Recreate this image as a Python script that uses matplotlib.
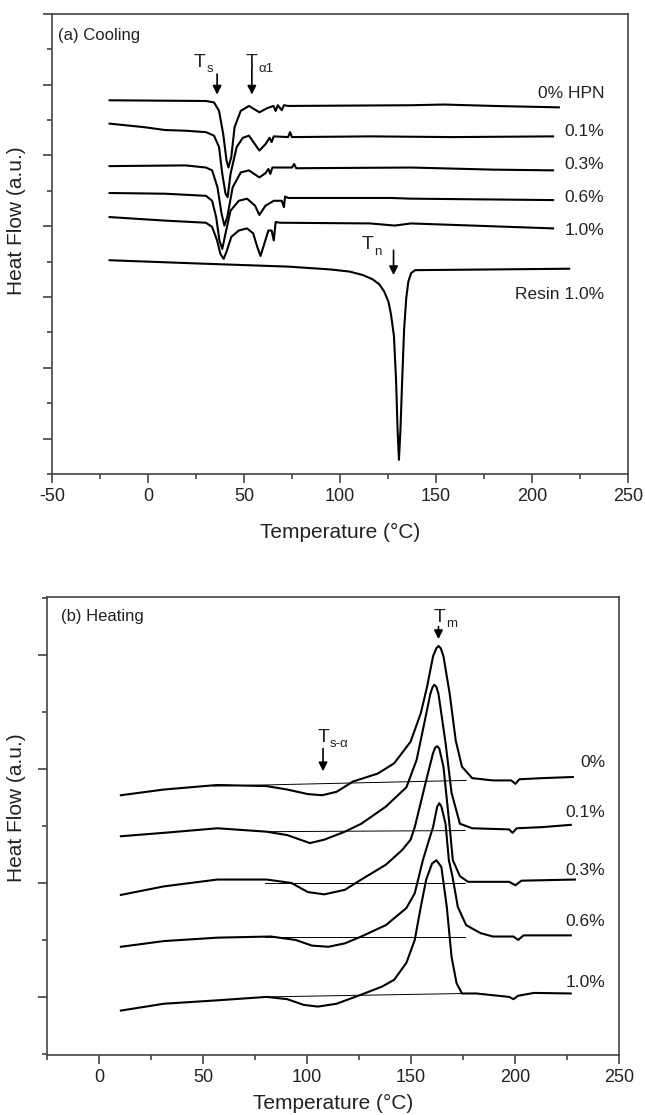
import numpy as np
import matplotlib
matplotlib.use("Agg")
from matplotlib import pyplot as plt
from matplotlib.ticker import MultipleLocator, NullFormatter

plt.rcParams['font.family'] = ['Liberation Sans', 'DejaVu Sans']
plt.rcParams['axes.unicode_minus'] = False

##DATA  (temperature in C, heat flow in a.u.)

# (a) cooling scans
cool_labels = ['0% HPN', '0.1%', '0.3%', '0.6%', '1.0%', 'Resin 1.0%']

cool_0 = [(-20, 4.78), (30.2, 4.77), (34.4, 4.75), (37.0, 4.63), (39.2, 4.30), (40.9, 3.93),
          (41.9, 3.83), (43.4, 3.98), (45.1, 4.40), (48.3, 4.63), (52.6, 4.70), (58.0, 4.61),
          (62.2, 4.67), (65.4, 4.70), (66.5, 4.63), (67.6, 4.71), (69.7, 4.64), (70.8, 4.71),
          (73, 4.70), (137, 4.71), (154, 4.72), (180, 4.70), (214, 4.68)]

cool_01 = [(-20, 4.45), (-1.9, 4.40), (8.8, 4.36), (19.5, 4.35), (30.2, 4.33), (34.4, 4.28),
           (37.0, 4.12), (38.7, 3.74), (40.4, 3.46), (41.5, 3.41), (43.0, 3.74), (46.2, 4.12),
           (49.4, 4.25), (52.6, 4.28), (58.0, 4.07), (61.2, 4.16), (63.3, 4.25), (64.4, 4.19),
           (65.5, 4.27), (73, 4.26), (74, 4.33), (75, 4.26), (115.7, 4.27), (158.5, 4.26),
           (211, 4.27)]

cool_03 = [(-20, 3.85), (19.5, 3.86), (30.2, 3.83), (33.4, 3.79), (36.2, 3.55), (38.3, 3.18),
           (39.8, 3.01), (41.3, 3.13), (44.1, 3.55), (48.3, 3.76), (52.6, 3.79), (58.0, 3.69),
           (61.2, 3.75), (62.7, 3.81), (63.7, 3.74), (64.8, 3.83), (75, 3.83), (76.1, 3.88),
           (77.2, 3.82), (137, 3.83), (180, 3.80), (211, 3.79)]

cool_06 = [(-20, 3.47), (8.8, 3.46), (30.2, 3.43), (33.4, 3.36), (35.5, 3.13), (37.2, 2.80),
           (38.7, 2.68), (40.4, 2.90), (43.0, 3.22), (47.3, 3.36), (51.6, 3.39), (55.8, 3.29),
           (58.0, 3.16), (61.2, 3.29), (65.5, 3.36), (69.7, 3.36), (70.8, 3.27), (71.4, 3.42),
           (73, 3.40), (126.4, 3.40), (137, 3.39), (211, 3.37)]

cool_10 = [(-20, 3.13), (8.8, 3.08), (30.2, 3.05), (33.4, 2.99), (36.0, 2.80), (37.7, 2.61),
           (39.4, 2.54), (40.9, 2.64), (43.4, 2.85), (47.3, 2.94), (51.6, 2.97), (54.8, 2.90),
           (56.9, 2.71), (58.6, 2.58), (60.1, 2.71), (62.7, 2.94), (64.4, 2.94), (65.5, 2.80),
           (66.5, 3.06), (68.7, 3.05), (115.7, 3.04), (128.5, 3.01), (137, 3.04), (211, 2.97)]

cool_resin = [(-20, 2.52), (30.2, 2.47), (73, 2.43), (95, 2.39), (105, 2.36), (112, 2.31),
              (117, 2.25), (120.5, 2.18), (123, 2.08), (125.3, 1.93), (126.6, 1.75),
              (128.1, 1.45), (129.2, 0.83), (130.0, 0.13), (130.7, -0.30), (131.5, 0.13),
              (132.4, 0.83), (133.4, 1.54), (134.5, 1.98), (135.6, 2.22), (137.1, 2.34),
              (139.2, 2.38), (219.4, 2.40)]

# (b) heating scans
heat_labels = ['0%', '0.1%', '0.3%', '0.6%', '1.0%']

heat_0 = [(10.5, 1.77), (31.2, 1.82), (56.9, 1.86), (80.6, 1.85), (90.5, 1.82), (100.4, 1.78),
          (107.3, 1.77), (114.2, 1.80), (122.1, 1.89), (134, 1.96), (141.9, 2.05), (149.8, 2.24),
          (154.7, 2.49), (157.7, 2.72), (160.6, 2.99), (162.2, 3.06), (163.2, 3.08), (164.3, 3.06),
          (165.6, 2.99), (168.6, 2.66), (171.5, 2.25), (174.5, 2.02), (179.4, 1.92), (189.3, 1.90),
          (198.2, 1.90), (200.2, 1.87), (202.1, 1.91), (213, 1.92), (227.8, 1.93)]

heat_01 = [(10.5, 1.41), (31.2, 1.44), (56.9, 1.48), (80.6, 1.45), (90.5, 1.42), (101.4, 1.35),
           (108.3, 1.38), (118.2, 1.45), (126.1, 1.52), (137.9, 1.67), (147.8, 1.84), (152.7, 2.08),
           (156.7, 2.43), (159.3, 2.66), (160.4, 2.72), (161.2, 2.74), (162.2, 2.72), (163.2, 2.66),
           (166.6, 2.23), (169.5, 1.79), (173.5, 1.52), (179.4, 1.48), (197.2, 1.47), (198.8, 1.44),
           (200.8, 1.48), (213, 1.49), (226.8, 1.51)]

heat_03 = [(10.5, 0.895), (31.2, 0.97), (56.9, 1.03), (80.6, 1.03), (92.5, 1.00), (100.4, 0.92),
           (108.3, 0.90), (118.2, 0.94), (126.1, 1.03), (137.9, 1.16), (145.8, 1.29), (149.8, 1.38),
           (151.8, 1.49), (157.7, 1.93), (160.6, 2.14), (161.7, 2.19), (162.6, 2.20), (163.6, 2.18),
           (165.6, 2.02), (168.6, 1.49), (170.1, 1.20), (173.5, 1.06), (177.4, 1.01), (197.2, 1.01),
           (200.2, 0.98), (203.1, 1.02), (228.8, 1.03)]

heat_06 = [(10.5, 0.44), (31.2, 0.49), (56.9, 0.52), (82.6, 0.53), (94.5, 0.50), (102.4, 0.45),
           (110.3, 0.44), (118.2, 0.47), (126.1, 0.53), (137.9, 0.63), (147.8, 0.78), (151.8, 0.91),
           (155.7, 1.20), (158.7, 1.38), (160.6, 1.49), (162.6, 1.67), (163.6, 1.70), (164.6, 1.67),
           (166.6, 1.52), (168.2, 1.20), (170.0, 1.05), (172.5, 0.79), (176.5, 0.63), (183.4, 0.56),
           (189.3, 0.53), (199.2, 0.53), (201.5, 0.50), (204.1, 0.54), (226.8, 0.54)]

heat_10 = [(10.5, -0.12), (31.2, -0.06), (56.9, -0.03), (80.6, 0.00), (90.5, -0.02), (98.4, -0.07),
           (105.3, -0.085), (114.2, -0.06), (126.1, 0.02), (136, 0.09), (141.9, 0.15), (147.8, 0.30),
           (151.8, 0.50), (154.7, 0.79), (157.3, 1.03), (160.1, 1.17), (162.2, 1.20), (164.6, 1.14),
           (167.2, 0.79), (169.5, 0.35), (171.9, 0.12), (174.5, 0.03), (181.4, 0.03), (197.2, 0.00),
           (199.2, -0.02), (201.5, 0.01), (209.1, 0.035), (226.8, 0.03)]

# straight baselines drawn under the melting peaks (start, end)
heat_base = [[(55, 1.85), (176.5, 1.90)],
             [(80, 1.45), (176, 1.46)],
             [(80, 1.00), (176, 1.00)],
             [(80, 0.53), (176, 0.53)],
             [(80, 0.00), (176, 0.03)]]

##PLOT

fig = plt.figure(figsize=(6.45, 11.15), dpi=100)
ax1 = fig.add_axes([0.0806, 0.5749, 0.8930, 0.4126])
ax2 = fig.add_axes([0.0729, 0.0538, 0.8868, 0.4108])

for curve in [cool_0, cool_01, cool_03, cool_06, cool_10, cool_resin]:
    t, v = zip(*curve)
    ax1.plot(t, v, color='k', lw=1.5, solid_joinstyle='round')

for curve in [heat_0, heat_01, heat_03, heat_06, heat_10]:
    t, v = zip(*curve)
    ax2.plot(t, v, color='k', lw=1.5, solid_joinstyle='round')

for base in heat_base:
    t, v = zip(*base)
    ax2.plot(t, v, color='k', lw=0.7)

# curve labels
for lab, y in zip(cool_labels, [4.88, 4.34, 3.87, 3.40, 2.94, 2.03]):
    ax1.text(237.6, y, lab, ha='right', va='center', fontsize=12.5, color='#222')
for lab, y in zip(heat_labels, [2.06, 1.62, 1.105, 0.66, 0.13]):
    ax2.text(243.5, y, lab, ha='right', va='center', fontsize=12.5, color='#222')

ax1.text(-46.8, 5.70, '(a) Cooling', ha='left', va='center', fontsize=12, color='#222')
ax2.text(-18.2, 3.34, '(b) Heating', ha='left', va='center', fontsize=12, color='#222')

arrow = dict(arrowstyle='-|>', color='k', lw=1.2, mutation_scale=13, shrinkA=0, shrinkB=0)

def mark(ax, x, y0, y1, sub, tx, ty):
    ax.annotate('', xy=(x, y1), xytext=(x, y0), arrowprops=arrow)
    ax.text(tx, ty, 'T', ha='left', va='center', fontsize=14, color='#222')
    ax.annotate(sub, xy=(tx, ty), xytext=(9, -5), textcoords='offset points',
                ha='left', va='center', fontsize=9.5, color='#222')

mark(ax1, 36.0, 5.15, 4.86, 's', 24.0, 5.32)
mark(ax1, 54.1, 5.30, 4.86, 'α1', 51.0, 5.32)
mark(ax1, 127.9, 2.66, 2.31, 'n', 111.5, 2.74)
mark(ax2, 107.7, 2.18, 1.98, 's-α', 105.0, 2.28)
mark(ax2, 163.2, 3.25, 3.14, 'm', 161.0, 3.33)

# axes styling
ax1.set_xlim(-50, 250)
ax1.set_ylim(-0.5, 6.0)
ax2.set_xlim(-25, 250)
ax2.set_ylim(-0.51, 3.51)

for ax in [ax1, ax2]:
    ax.xaxis.set_major_locator(MultipleLocator(50))
    ax.xaxis.set_minor_locator(MultipleLocator(25))
    ax.yaxis.set_major_locator(MultipleLocator(1))
    ax.yaxis.set_minor_locator(MultipleLocator(0.5))
    ax.yaxis.set_major_formatter(NullFormatter())
    ax.tick_params(which='major', direction='out', length=6.5, width=1.1, color='#333',
                   labelsize=13, labelcolor='#222', top=False, right=False)
    ax.tick_params(which='minor', direction='out', length=3.5, width=1.1, color='#333',
                   top=False, right=False)
    for s in ax.spines.values():
        s.set_color('#444')
        s.set_linewidth(1.2)
    ax.set_ylabel('Heat Flow (a.u.)', fontsize=15, color='#222', labelpad=4)

ax1.set_xlabel('Temperature (°C)', fontsize=15, color='#222', labelpad=13)
ax2.set_xlabel('Temperature (°C)', fontsize=15, color='#222', labelpad=6)

ax1.yaxis.set_label_coords(-0.045, 0.55)
ax2.yaxis.set_label_coords(-0.037, 0.54)

fig.savefig('out.png', dpi=100)
